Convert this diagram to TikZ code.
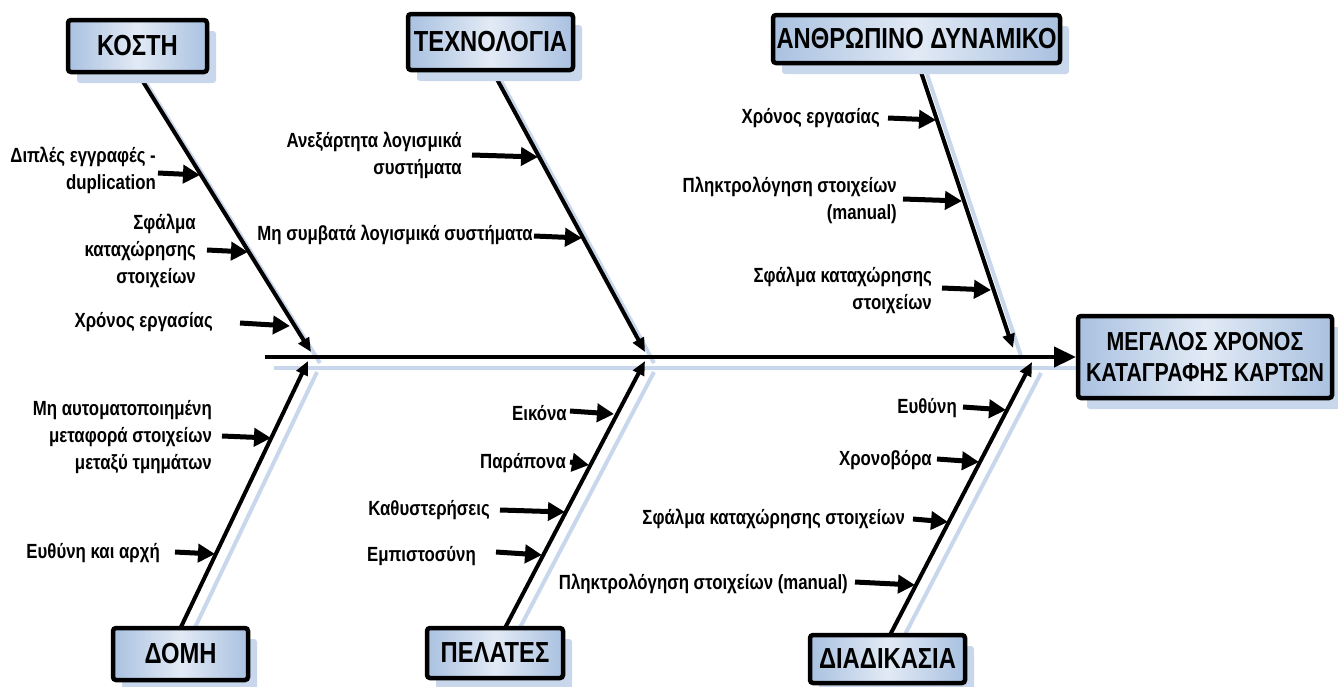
\documentclass[tikz,border=0pt]{standalone}
\usepackage{fontspec}
\setmainfont{Liberation Sans}[FakeStretch=0.82]
\usetikzlibrary{arrows.meta,calc,shadows}
\definecolor{shadowblue}{HTML}{C8D7EC}
\definecolor{boxblue}{HTML}{A9C1E0}
\definecolor{boxlight}{HTML}{E2EAF5}
\begin{document}
\begin{tikzpicture}[x=1pt,y=-1pt,
  catbox/.style={draw=black, line width=4.5pt, rounded corners=3pt,
    left color=boxblue, right color=boxblue, middle color=boxlight,
    drop shadow={shadow xshift=9pt, shadow yshift=-11pt, fill=shadowblue, opacity=1},
    font=\fontsize{29}{30}\selectfont\bfseries, inner sep=0pt, text=black, align=center},
  headbox/.style={catbox, font=\fontsize{26}{31}\selectfont\bfseries},
  lbl/.style={font=\fontsize{20.5}{27}\selectfont\bfseries, align=right, inner sep=0pt, anchor=east},
  bone/.style={line width=4pt, -{Triangle[length=14pt,width=12pt]}},
  spine/.style={line width=4.5pt, -{Triangle[length=22pt,width=20pt]}},
  cause/.style={line width=5pt, -{Triangle[length=17pt,width=18pt]}},
  shadowline/.style={line width=4pt, draw=shadowblue, transform canvas={shift={(9,11)}}}
]
\useasboundingbox (0,0) rectangle (1338,686);

% bone end points
\coordinate (kb) at (137,72);
\coordinate (kj) at (311,352);
\coordinate (tb) at (492,70);
\coordinate (tj) at (645,352);
\coordinate (ab) at (918,63);
\coordinate (aj) at (1013,348);
\coordinate (db) at (180.5,628);
\coordinate (dj) at (308,361);
\coordinate (pb) at (505,628);
\coordinate (pj) at (645,361);
\coordinate (sb) at (890,635);
\coordinate (sj) at (1032,362);
\coordinate (sp0) at (265,357);
\coordinate (sp1) at (1076,357);

% shadows of lines
\draw[shadowline] (sp0) -- (sp1);
\foreach \a/\b in {kb/kj,tb/tj,ab/aj,db/dj,pb/pj,sb/sj}
  \draw[shadowline] (\a) -- (\b);

% spine and bones
\draw[spine] (sp0) -- (sp1);
\draw[bone] (kb) -- (kj);
\draw[bone] (tb) -- (tj);
\draw[bone] (ab) -- (aj);
\draw[bone] (db) -- (dj);
\draw[bone] (pb) -- (pj);
\draw[bone] (sb) -- (sj);

% category boxes
\node[catbox, minimum width=139pt, minimum height=52pt] (kosti) at (137.5,46) {ΚΟΣΤΗ};
\node[catbox, minimum width=165pt, minimum height=56pt] (tech) at (490.5,42) {ΤΕΧΝΟΛΟΓΙΑ};
\node[catbox, minimum width=287pt, minimum height=48pt] (anthr) at (916.5,39) {ΑΝΘΡΩΠΙΝΟ ΔΥΝΑΜΙΚΟ};
\node[catbox, minimum width=135pt, minimum height=52pt] (domi) at (180.5,654) {ΔΟΜΗ};
\node[catbox, minimum width=136pt, minimum height=50pt] (pelates) at (495,653) {ΠΕΛΑΤΕΣ};
\node[catbox, minimum width=155pt, minimum height=48pt] (diad) at (887.5,659) {ΔΙΑΔΙΚΑΣΙΑ};
\node[headbox, minimum width=254pt, minimum height=82pt] (head) at (1205,357) {ΜΕΓΑΛΟΣ ΧΡΟΝΟΣ\\ΚΑΤΑΓΡΑΦΗΣ ΚΑΡΤΩΝ};

% labels
\node[lbl] (k1) at (156,170.5) {Διπλές εγγραφές -\\duplication};
\node[lbl] (k2) at (196,251) {Σφάλμα\\καταχώρησης\\στοιχείων};
\node[lbl] (k3) at (213,322) {Χρόνος εργασίας};
\node[lbl] (t1) at (462,155) {Ανεξάρτητα λογισμικά\\συστήματα};
\node[lbl] (t2) at (533,235) {Μη συμβατά λογισμικά συστήματα};
\node[lbl] (a1) at (880,118) {Χρόνος εργασίας};
\node[lbl] (a2) at (897,200) {Πληκτρολόγηση στοιχείων\\(manual)};
\node[lbl] (a3) at (932,290) {Σφάλμα καταχώρησης\\στοιχείων};
\node[lbl] (d1) at (212,437) {Μη αυτοματοποιημένη\\μεταφορά στοιχείων\\μεταξύ τμημάτων};
\node[lbl] (d2) at (160,553) {Ευθύνη και αρχή};
\node[lbl] (p1) at (567,413) {Εικόνα};
\node[lbl] (p2) at (566,463) {Παράπονα};
\node[lbl] (p3) at (490,510) {Καθυστερήσεις};
\node[lbl] (p4) at (476,556) {Εμπιστοσύνη};
\node[lbl] (s1) at (957,408) {Ευθύνη};
\node[lbl] (s2) at (932,460) {Χρονοβόρα};
\node[lbl] (s3) at (905,519) {Σφάλμα καταχώρησης στοιχείων};
\node[lbl] (s4) at (848,584) {Πληκτρολόγηση στοιχείων (manual)};

% cause arrows: tails and tips
\coordinate (k1a) at (158,173); \coordinate (k1b) at (200,175);
\coordinate (k2a) at (207,250); \coordinate (k2b) at (248,252);
\coordinate (k3a) at (240,323); \coordinate (k3b) at (290,326);
\coordinate (t1a) at (472,155); \coordinate (t1b) at (538,157);
\coordinate (t2a) at (534,236); \coordinate (t2b) at (582,238);
\coordinate (a1a) at (888,118); \coordinate (a1b) at (936,120);
\coordinate (a2a) at (903,199); \coordinate (a2b) at (962,201);
\coordinate (a3a) at (942,288); \coordinate (a3b) at (991,290);
\coordinate (d1a) at (222,436); \coordinate (d1b) at (271,438);
\coordinate (d2a) at (175,552); \coordinate (d2b) at (215,554);
\coordinate (p1a) at (570,411); \coordinate (p1b) at (614,414);
\coordinate (p2a) at (570,462); \coordinate (p2b) at (589,465);
\coordinate (p3a) at (500,510); \coordinate (p3b) at (565,512);
\coordinate (p4a) at (496,552); \coordinate (p4b) at (542,555);
\coordinate (s1a) at (963,407); \coordinate (s1b) at (1006,410);
\coordinate (s2a) at (937,459); \coordinate (s2b) at (979,462);
\coordinate (s3a) at (913,519); \coordinate (s3b) at (948,522);
\coordinate (s4a) at (855,582); \coordinate (s4b) at (915,585);

\foreach \c in {k1,k2,k3,t1,t2,a1,a2,a3,d1,d2,p1,p2,p3,p4,s1,s2,s3,s4}
  \draw[cause] (\c a) -- (\c b);
\end{tikzpicture}
\end{document}
